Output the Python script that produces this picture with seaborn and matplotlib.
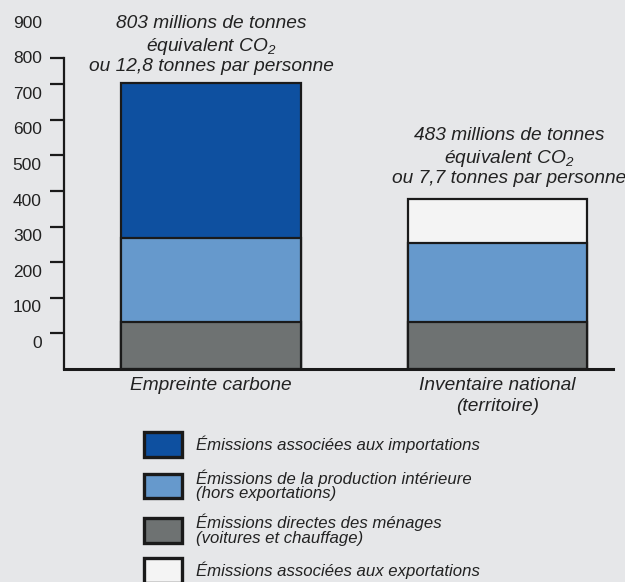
import numpy as np
import pandas as pd
import matplotlib.pyplot as plt
import seaborn as sns
from matplotlib.patches import Patch

# valeurs (millions de tonnes eq. CO2)
categories = ["Empreinte carbone", "Inventaire national\n(territoire)"]
menages = [132, 132]          # émissions directes des ménages
production = [236, 222]       # production intérieure (hors exportations)
dessus = [435, 123]           # importations / exportations
dessus_couleur = ["#0E50A0", "#F4F4F4"]

ytick_vals = [100, 200, 300, 400, 500, 600, 700, 800, 873]
ylabel_txt = ["0", "100", "200", "300", "400", "500", "600", "700", "800", "900"]

annot_1 = ["803 millions de tonnes", "équivalent CO$_2$", "ou 12,8 tonnes par personne"]
annot_2 = ["483 millions de tonnes", "équivalent CO$_2$", "ou 7,7 tonnes par personne"]

legende = ["Émissions associées aux importations",
           "Émissions de la production intérieure\n(hors exportations)",
           "Émissions directes des ménages\n(voitures et chauffage)",
           "Émissions associées aux exportations"]
leg_couleurs = ["#0E50A0", "#6699CC", "#6E7272", "#F4F4F4"]

FOND = "#E6E7E9"
sns.set_style("white")
plt.rcParams["font.family"] = ["Liberation Sans", "DejaVu Sans"]
plt.rcParams["mathtext.fontset"] = "custom"
plt.rcParams["mathtext.rm"] = "Liberation Sans:italic"
plt.rcParams["mathtext.it"] = "Liberation Sans:italic"

df = pd.DataFrame({"cat": categories, "menages": menages,
                   "production": production, "dessus": dessus})
df["bas2"] = df["menages"] + df["production"]
df["total"] = df["bas2"] + df["dessus"]

fig = plt.figure(figsize=(6.25, 5.82), dpi=100, facecolor=FOND)
ax = fig.add_axes([64 / 625, 1 - 369 / 582, (613 - 64) / 625, 356 / 582])
ax.set_facecolor(FOND)

w = 0.628
kw = dict(edgecolor="#1A1A1A", linewidth=1.6, width=w, saturation=1, ax=ax)
sns.barplot(data=df, x="cat", y="total", hue="cat", palette=dessus_couleur, legend=False, **kw)
sns.barplot(data=df, x="cat", y="bas2", color="#6699CC", **kw)
sns.barplot(data=df, x="cat", y="menages", color="#6E7272", **kw)

ax.set_xlim(-0.513, 1.403)
ax.set_ylim(0, 1000)
ax.set_xlabel("")
ax.set_ylabel("")

for s in ["top", "right"]:
    ax.spines[s].set_visible(False)
ax.spines["left"].set_bounds(0, 873)
ax.spines["left"].set_linewidth(1.6)
ax.spines["bottom"].set_linewidth(2.2)
ax.spines["left"].set_color("#1A1A1A")
ax.spines["bottom"].set_color("#1A1A1A")

ax.set_yticks(ytick_vals)
ax.set_yticklabels([])
ax.tick_params(axis="y", which="major", length=10, width=1.6, color="#1A1A1A", direction="out", left=True)
# étiquettes décalées comme sur l'original
ax.set_yticks([76 + 100 * i for i in range(len(ylabel_txt))], minor=True)
ax.set_yticklabels(ylabel_txt, minor=True)
ax.tick_params(axis="y", which="minor", length=0, pad=16, labelsize=12.5, labelcolor="#222222")

ax.set_xticks([0, 1])
ax.set_xticklabels(categories, fontstyle="italic", fontsize=13.8, color="#222222", linespacing=1.25)
ax.tick_params(axis="x", length=0, pad=6)

ys1 = [970, 907, 849]
ys2 = [655, 591, 535]
for t, y in zip(annot_1, ys1):
    ax.text(0, y, t, ha="center", va="center", fontsize=13.8, fontstyle="italic",
            color="#222222", clip_on=False)
for t, y in zip(annot_2, ys2):
    ax.text(1.04, y, t, ha="center", va="center", fontsize=13.8, fontstyle="italic",
            color="#222222", clip_on=False)

handles = [Patch(facecolor=c, edgecolor="#1A1A1A", linewidth=2.4) for c in leg_couleurs]
leg = fig.legend(handles, legende, loc="upper left", bbox_to_anchor=(144 / 625, 1 - 432 / 582),
                 frameon=False, borderpad=0, borderaxespad=0, handlelength=2.25, handleheight=1.9,
                 handletextpad=0.85, labelspacing=0.75,
                 prop={"style": "italic", "size": 12.1})
for t in leg.get_texts():
    t.set_linespacing(0.95)
    t.set_color("#222222")

fig.savefig("out.png", dpi=100, facecolor=FOND)
